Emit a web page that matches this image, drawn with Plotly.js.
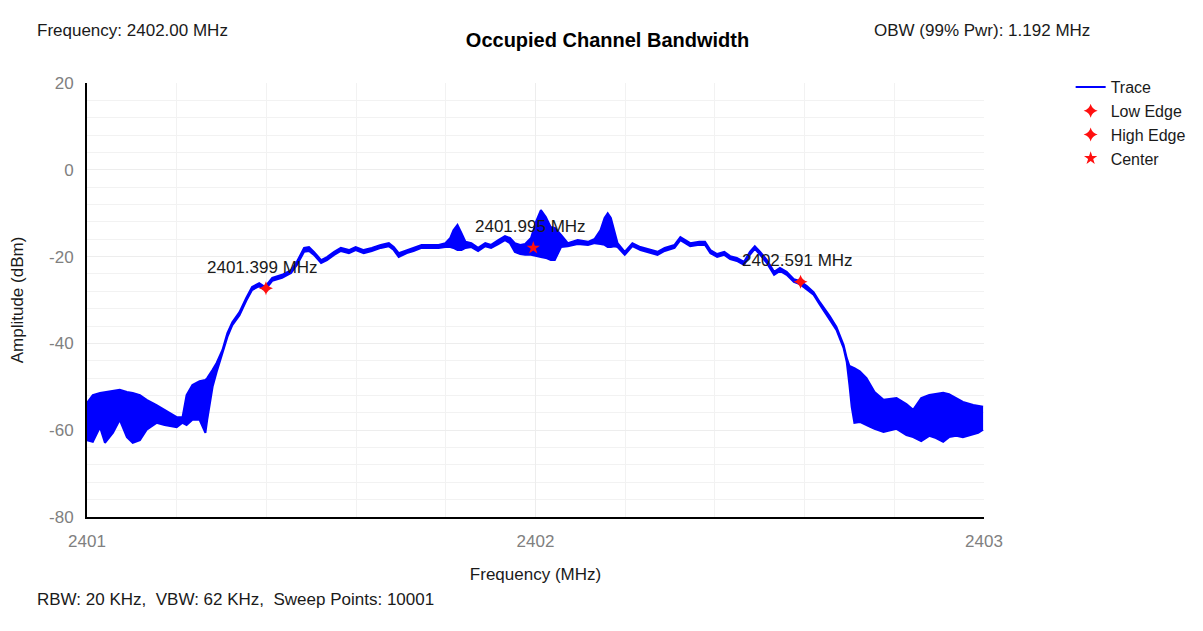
<!DOCTYPE html>
<html>
<head>
<meta charset="utf-8">
<script src="https://cdn.plot.ly/plotly-3.0.1.min.js"></script>
<style>
  html, body { margin: 0; padding: 0; background: #ffffff; }
  #chart { width: 1203px; height: 631px; }
</style>
</head>
<body>
<div id="chart"></div>
<script>
// ---- Data ----
const freqMHz = [
  2401.000, 2401.013, 2401.029, 2401.040, 2401.058, 2401.073, 2401.089, 2401.102, 2401.118, 2401.133,
  2401.155, 2401.173, 2401.200, 2401.213, 2401.222, 2401.235, 2401.251, 2401.264, 2401.268, 2401.280,
  2401.289, 2401.302, 2401.313, 2401.324, 2401.340, 2401.355, 2401.368, 2401.384, 2401.397, 2401.413,
  2401.435, 2401.455, 2401.468, 2401.484, 2401.495, 2401.506, 2401.522, 2401.535, 2401.551, 2401.566,
  2401.584, 2401.599, 2401.617, 2401.635, 2401.655, 2401.673, 2401.684, 2401.695, 2401.713, 2401.728,
  2401.746, 2401.768, 2401.784, 2401.799, 2401.810, 2401.817, 2401.826, 2401.835, 2401.844, 2401.857,
  2401.872, 2401.888, 2401.901, 2401.917, 2401.932, 2401.943, 2401.954, 2401.966, 2401.977, 2401.990,
  2402.001, 2402.012, 2402.023, 2402.034, 2402.043, 2402.057, 2402.072, 2402.094, 2402.117, 2402.132,
  2402.145, 2402.154, 2402.161, 2402.168, 2402.176, 2402.183, 2402.199, 2402.216, 2402.234, 2402.256,
  2402.272, 2402.288, 2402.310, 2402.323, 2402.334, 2402.345, 2402.365, 2402.378, 2402.390, 2402.405,
  2402.421, 2402.434, 2402.449, 2402.465, 2402.478, 2402.489, 2402.501, 2402.516, 2402.532, 2402.545,
  2402.560, 2402.576, 2402.589, 2402.605, 2402.620, 2402.634, 2402.656, 2402.671, 2402.687, 2402.694,
  2402.700, 2402.705, 2402.711, 2402.723, 2402.738, 2402.756, 2402.776, 2402.805, 2402.827, 2402.842,
  2402.860, 2402.878, 2402.893, 2402.909, 2402.922, 2402.938, 2402.953, 2402.976, 2402.987, 2402.998
];
const upperDbm = [
  -53.7, -51.9, -51.4, -51.2, -51.0, -50.7, -51.2, -51.4, -51.9, -53.0,
  -54.2, -55.3, -57.0, -57.0, -51.9, -49.6, -48.7, -48.4, -48.0, -46.1,
  -44.5, -41.5, -37.6, -35.1, -32.8, -29.5, -27.0, -26.1, -27.0, -24.9,
  -24.2, -23.1, -21.2, -18.0, -17.8, -18.9, -20.8, -20.1, -18.9, -18.0,
  -18.5, -17.8, -18.5, -18.0, -17.3, -16.9, -17.8, -19.2, -18.5, -18.0,
  -17.3, -17.3, -17.3, -16.9, -15.7, -13.9, -12.7, -14.6, -16.6, -16.9,
  -18.0, -16.9, -17.3, -16.2, -15.3, -15.7, -16.9, -17.3, -17.1, -15.7,
  -12.0, -9.3, -10.9, -13.2, -13.4, -15.0, -16.9, -16.2, -16.6, -15.9,
  -13.9, -11.1, -10.0, -11.1, -13.9, -16.9, -18.9, -16.9, -17.8, -18.5,
  -18.9, -18.0, -17.3, -15.5, -16.2, -16.9, -16.6, -16.6, -18.5, -19.4,
  -18.9, -19.9, -20.3, -21.2, -18.9, -17.6, -18.9, -20.8, -23.5, -22.6,
  -23.5, -25.2, -25.6, -26.8, -28.2, -30.5, -33.7, -36.2, -40.4, -43.4,
  -45.2, -45.4, -45.7, -46.4, -48.0, -51.2, -53.0, -52.6, -54.0, -55.3,
  -52.6, -51.9, -51.7, -51.4, -51.7, -52.6, -53.5, -54.2, -54.4, -54.6
];
const lowerDbm = [
  -62.3, -62.7, -59.3, -62.9, -60.6, -57.6, -61.6, -62.9, -62.3, -59.9,
  -58.3, -58.8, -59.3, -58.3, -58.8, -57.6, -57.6, -60.6, -57.6, -50.0,
  -46.6, -42.4, -38.5, -35.8, -33.5, -30.2, -27.7, -26.8, -27.7, -25.6,
  -24.9, -23.8, -21.9, -18.9, -18.7, -19.6, -21.5, -20.8, -19.6, -18.7,
  -19.2, -18.5, -19.2, -18.7, -18.0, -17.6, -18.5, -20.1, -19.2, -18.7,
  -18.0, -18.0, -18.0, -17.8, -17.8, -18.0, -18.5, -18.5, -18.0, -17.8,
  -18.7, -17.6, -18.0, -17.1, -16.2, -16.9, -18.9, -19.4, -19.6, -19.6,
  -19.9, -20.1, -20.3, -20.8, -20.8, -17.8, -17.6, -17.1, -17.3, -16.9,
  -17.1, -17.3, -17.8, -17.8, -17.6, -17.8, -19.6, -17.6, -18.5, -19.2,
  -19.6, -18.7, -18.0, -16.2, -16.9, -17.6, -17.3, -17.3, -19.2, -20.1,
  -19.6, -20.6, -21.0, -21.9, -19.6, -18.2, -19.6, -21.5, -24.2, -23.3,
  -24.2, -25.8, -26.3, -27.5, -28.8, -31.1, -34.4, -36.9, -41.1, -44.3,
  -49.6, -54.6, -58.3, -58.1, -58.8, -59.7, -60.4, -59.7, -61.1, -61.6,
  -62.5, -61.3, -61.8, -62.7, -61.6, -61.3, -61.6, -60.9, -60.6, -59.9
];
const markerNames  = ['Low Edge', 'High Edge', 'Center'];
const markerFreqs  = [2401.399, 2402.591, 2401.995];
const markerAmps   = [-27.3, -25.8, -18.0];
const markerLabels = ['2401.399 MHz', '2402.591 MHz', '2401.995 MHz'];
const xTickVals = [2401, 2402, 2403];
const yTickVals = [-80, -60, -40, -20, 0, 20];
const chartTitle = 'Occupied Channel Bandwidth';
const headerLeft = 'Frequency: 2402.00 MHz';
const headerRight = 'OBW (99% Pwr): 1.192 MHz';
const footerLeft = 'RBW: 20 KHz,  VBW: 62 KHz,  Sweep Points: 10001';
const xTitle = 'Frequency (MHz)';
const yTitle = 'Amplitude (dBm)';

// ---- Styles ----
const FONT = '"Liberation Sans", Arial, sans-serif';
const BLUE = '#0000ff';
const RED = '#ff1010';
const symbols = ['star-diamond', 'star-diamond', 'star'];

const traces = [
  {
    x: freqMHz, y: upperDbm, name: 'Trace', type: 'scatter', mode: 'lines',
    line: { color: BLUE, width: 2 }, hoverinfo: 'skip'
  },
  {
    x: freqMHz, y: lowerDbm, name: 'Trace band', type: 'scatter', mode: 'lines',
    line: { color: BLUE, width: 2 }, fill: 'tonexty', fillcolor: BLUE,
    showlegend: false, hoverinfo: 'skip'
  }
];
markerNames.forEach((nm, i) => {
  traces.push({
    x: [markerFreqs[i]], y: [markerAmps[i]], name: nm, type: 'scatter', mode: 'markers',
    marker: { color: RED, symbol: symbols[i], size: 10, line: { width: 0 } }
  });
});

const annotations = markerFreqs.map((f, i) => ({
  x: f, y: markerAmps[i], xref: 'x', yref: 'y', text: markerLabels[i],
  showarrow: false, yshift: 21, xshift: -3, xanchor: 'center', yanchor: 'middle',
  font: { family: FONT, size: 17, color: '#1a1a1a' }
}));
annotations.push(
  { text: headerLeft, xref: 'paper', yref: 'paper', x: -0.0577, y: 1.122, xanchor: 'left', yanchor: 'middle',
    showarrow: false, font: { family: FONT, size: 17, color: '#1a1a1a' } },
  { text: headerRight, xref: 'paper', yref: 'paper', x: 1.12, y: 1.122, xanchor: 'right', yanchor: 'middle',
    showarrow: false, font: { family: FONT, size: 17, color: '#1a1a1a' } },
  { text: footerLeft, xref: 'paper', yref: 'paper', x: -0.0577, y: -0.189, xanchor: 'left', yanchor: 'middle',
    showarrow: false, font: { family: FONT, size: 17, color: '#1a1a1a' } }
);

const layout = {
  width: 1203, height: 631,
  margin: { l: 87, r: 215, t: 83, b: 114, pad: 0 },
  paper_bgcolor: '#ffffff', plot_bgcolor: '#ffffff',
  font: { family: FONT, size: 17, color: '#1a1a1a' },
  title: {
    text: '<b>' + chartTitle + '</b>', xref: 'container', yref: 'container',
    x: 0.505, y: 0.937, xanchor: 'center', yanchor: 'middle',
    font: { family: FONT, size: 20, color: '#000000' }
  },
  showlegend: true,
  legend: {
    x: 1.0966, y: 1.03, xanchor: 'left', yanchor: 'top',
    bgcolor: 'rgba(0,0,0,0)', borderwidth: 0, traceorder: 'normal',
    font: { family: FONT, size: 16, color: '#1a1a1a' },
    tracegroupgap: 0
  },
  xaxis: {
    range: [2401, 2403], tickvals: xTickVals, ticktext: xTickVals.map(String),
    showline: true, linecolor: '#000000', linewidth: 2, mirror: false,
    ticks: 'outside', ticklen: 8, tickcolor: 'rgba(0,0,0,0)',
    tickfont: { family: FONT, size: 17, color: '#808080' },
    showgrid: true, gridcolor: '#ededed', gridwidth: 1,
    minor: { dtick: 0.2, showgrid: true, gridcolor: '#f2f2f2', gridwidth: 1 },
    zeroline: false,
    title: { text: xTitle, standoff: 18, font: { family: FONT, size: 17, color: '#1a1a1a' } }
  },
  yaxis: {
    range: [-80, 20], tickvals: yTickVals, ticktext: yTickVals.map(String),
    showline: true, linecolor: '#000000', linewidth: 2, mirror: false,
    ticks: 'outside', ticklen: 8, tickcolor: 'rgba(0,0,0,0)',
    tickfont: { family: FONT, size: 17, color: '#808080' },
    showgrid: true, gridcolor: '#ededed', gridwidth: 1,
    minor: { dtick: 4, showgrid: true, gridcolor: '#f2f2f2', gridwidth: 1 },
    zeroline: false,
    title: { text: yTitle, standoff: 21, font: { family: FONT, size: 17, color: '#1a1a1a' } }
  },
  annotations: annotations
};

Plotly.newPlot('chart', traces, layout, { displayModeBar: false, staticPlot: true });
</script>
</body>
</html>
